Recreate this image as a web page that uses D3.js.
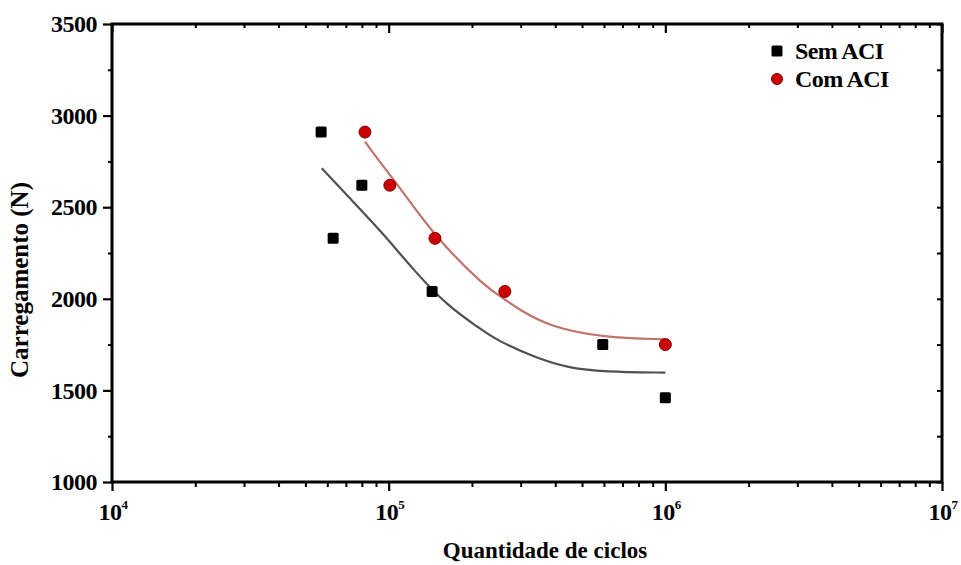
<!DOCTYPE html>
<html>
<head>
<meta charset="utf-8">
<script src="https://cdn.jsdelivr.net/npm/d3@7"></script>
<style>
  html, body { margin: 0; padding: 0; background: #fff; }
  svg { display: block; }
  text { font-family: "Liberation Serif", "Times New Roman", serif; font-weight: bold; fill: #000; }
</style>
</head>
<body>
<svg id="chart" width="961" height="565"></svg>
<script>
// Measured fatigue data: cycles to failure vs. applied load
const semCycles = [57000, 63000, 80000, 143600, 594000, 1000000];
const semLoad   = [2910, 2330, 2620, 2040, 1750, 1460];
const comCycles = [82100, 101000, 147000, 263000, 1000000];
const comLoad   = [2910, 2620, 2330, 2040, 1750];

// Fitted trend curves
const semFitCycles = [57300, 71500, 94300, 124400, 164200, 213600, 242000, 342200, 451300, 595300, 1000000];
const semFitLoad   = [2712, 2557, 2366, 2148, 1957, 1839, 1779, 1675, 1621, 1602, 1597];
const comFitCycles = [82100, 91700, 111400, 147800, 222700, 263000, 297800, 382200, 595300, 1000000];
const comFitLoad   = [2858, 2758, 2594, 2335, 2066, 1997, 1939, 1848, 1788, 1779];

// Axis ticks
const xMajor = [1e4, 1e5, 1e6, 1e7];
const xExponents = ["4", "5", "6", "7"];
const yMajor = [1000, 1500, 2000, 2500, 3000, 3500];
const yMinor = [1250, 1750, 2250, 2750, 3250];

const seriesNames = ["Sem ACI", "Com ACI"];

const svg = d3.select("#chart");
const plotLeft = 112, plotRight = 942, plotTop = 24, plotBottom = 482;

const x = d3.scaleLog().domain([1e4, 1e7]).range([plotLeft, plotRight]);
const y = d3.scaleLinear().domain([1000, 3500]).range([plotBottom, plotTop]);

const xMinor = [];
[1e4, 1e5, 1e6].forEach(d => { for (let k = 2; k <= 9; k++) xMinor.push(d * k); });

function styleTicks(g, w) {
  g.select(".domain").remove();
  g.selectAll(".tick line").attr("stroke", "#000").attr("stroke-width", w);
}

// Bottom axis (outward ticks)
svg.append("g").attr("transform", `translate(0,${plotBottom})`)
  .call(d3.axisBottom(x).tickValues(xMajor).tickSize(9).tickFormat(""))
  .call(g => styleTicks(g, 2.2));
svg.append("g").attr("transform", `translate(0,${plotBottom})`)
  .call(d3.axisBottom(x).tickValues(xMinor).tickSize(5).tickFormat(""))
  .call(g => styleTicks(g, 2));
// Top axis (inward ticks)
svg.append("g").attr("transform", `translate(0,${plotTop})`)
  .call(d3.axisBottom(x).tickValues(xMajor).tickSize(9).tickFormat(""))
  .call(g => styleTicks(g, 2.2));
svg.append("g").attr("transform", `translate(0,${plotTop})`)
  .call(d3.axisBottom(x).tickValues(xMinor).tickSize(4).tickFormat(""))
  .call(g => styleTicks(g, 2));
// Left axis (outward ticks)
svg.append("g").attr("transform", `translate(${plotLeft},0)`)
  .call(d3.axisLeft(y).tickValues(yMajor).tickSize(9).tickFormat(""))
  .call(g => styleTicks(g, 2.2));
svg.append("g").attr("transform", `translate(${plotLeft},0)`)
  .call(d3.axisLeft(y).tickValues(yMinor).tickSize(4).tickFormat(""))
  .call(g => styleTicks(g, 2));
// Right axis (inward ticks)
svg.append("g").attr("transform", `translate(${plotRight},0)`)
  .call(d3.axisLeft(y).tickValues(yMajor.concat(yMinor)).tickSize(5).tickFormat(""))
  .call(g => styleTicks(g, 2));

// Frame
svg.append("rect")
  .attr("x", plotLeft).attr("y", plotTop)
  .attr("width", plotRight - plotLeft).attr("height", plotBottom - plotTop)
  .attr("fill", "none").attr("stroke", "#000").attr("stroke-width", 3);

// Y tick labels
svg.append("g").selectAll("text").data(yMajor).join("text")
  .attr("x", 97).attr("y", d => y(d))
  .attr("dy", "0.34em")
  .attr("text-anchor", "end")
  .attr("font-size", 24)
  .style("letter-spacing", "-0.5px")
  .text(d => d);

// X tick labels as powers of ten
const xl = svg.append("g").selectAll("text").data(xMajor).join("text")
  .attr("x", d => x(d) + 1).attr("y", 520)
  .attr("text-anchor", "middle")
  .attr("font-size", 24)
  .style("letter-spacing", "-0.5px");
xl.append("tspan").text("10");
xl.append("tspan").attr("font-size", 13).attr("dy", -11).text((d, i) => xExponents[i]);

// Axis titles
svg.append("text")
  .attr("transform", "translate(28,280) rotate(-90)")
  .attr("text-anchor", "middle")
  .attr("font-size", 25)
  .text("Carregamento (N)");
svg.append("text")
  .attr("x", 545).attr("y", 558)
  .attr("text-anchor", "middle")
  .attr("font-size", 23)
  .text("Quantidade de ciclos");

// Fit curves
const line = d3.line().curve(d3.curveBasis);
svg.append("path")
  .attr("d", line(semFitCycles.map((c, i) => [x(c), y(semFitLoad[i])])))
  .attr("fill", "none").attr("stroke", "#505050").attr("stroke-width", 2.2);
svg.append("path")
  .attr("d", line(comFitCycles.map((c, i) => [x(c), y(comFitLoad[i])])))
  .attr("fill", "none").attr("stroke", "#c2736c").attr("stroke-width", 2.2);

// Markers
const sq = 11;
svg.append("g").selectAll("rect").data(semCycles).join("rect")
  .attr("x", (d) => x(d) - sq / 2)
  .attr("y", (d, i) => y(semLoad[i]) - sq / 2)
  .attr("width", sq).attr("height", sq).attr("rx", 1.5)
  .attr("fill", "#000");
svg.append("g").selectAll("circle").data(comCycles).join("circle")
  .attr("cx", d => x(d))
  .attr("cy", (d, i) => y(comLoad[i]))
  .attr("r", 6)
  .attr("fill", "#cc0000").attr("stroke", "#7a0000").attr("stroke-width", 1);

// Legend
const lg = svg.append("g");
lg.append("rect").attr("x", 777 - 5.5).attr("y", 51 - 5.5).attr("width", 11).attr("height", 11)
  .attr("rx", 1.5).attr("fill", "#000");
lg.append("circle").attr("cx", 777).attr("cy", 79).attr("r", 5.5)
  .attr("fill", "#cc0000").attr("stroke", "#7a0000").attr("stroke-width", 1);
lg.selectAll("text").data(seriesNames).join("text")
  .attr("x", 795).attr("y", (d, i) => 59 + i * 28)
  .attr("font-size", 24)
  .style("letter-spacing", "-0.6px")
  .text(d => d);
</script>
</body>
</html>
